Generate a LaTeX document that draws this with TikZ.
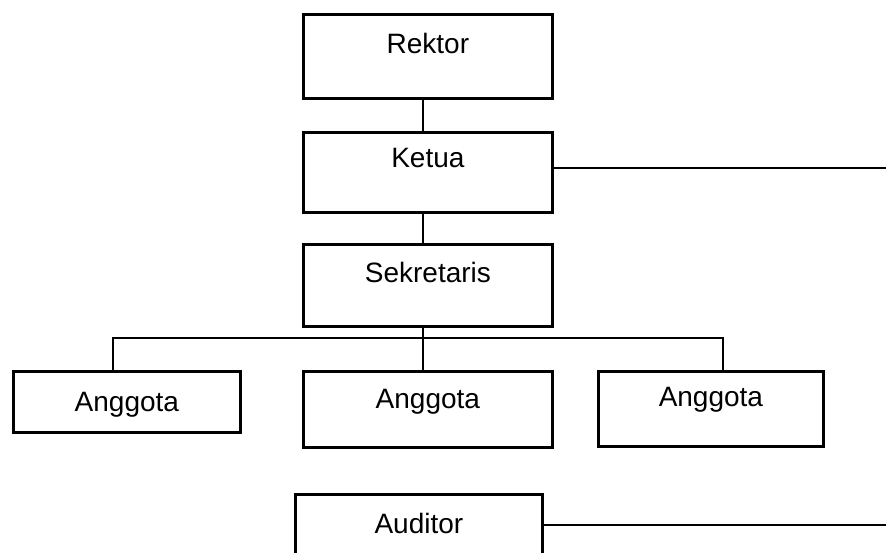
\documentclass[tikz,border=0pt]{standalone}
\usepackage{fontspec}
\setmainfont{Liberation Sans}
\usepackage{tikz}
\usetikzlibrary{positioning}
\tikzset{
  orgbox/.style={draw, line width=2.8pt, inner xsep=0pt, inner ysep=0pt,
    anchor=north west, font=\fontsize{28}{32}\selectfont},
  orgline/.style={line width=2.8pt}
}

\begin{document}
\begin{tikzpicture}[x=1pt, y=-1pt]
\useasboundingbox (0,0) rectangle (886,553);
\node[orgbox, minimum width=249pt, text height=39pt, text depth=45pt] (rektor) at (302,13) {Rektor};
\node[orgbox, minimum width=249pt, text height=35pt, text depth=45pt] (ketua) at (302,131) {Ketua};
\node[orgbox, minimum width=249pt, text height=38pt, text depth=44pt] (sekretaris) at (302,243) {Sekretaris};
\node[orgbox, minimum width=227pt, text height=40pt, text depth=21pt] (anggota1) at (12,370) {Anggota};
\node[orgbox, minimum width=249pt, text height=37pt, text depth=39pt] (anggota2) at (302,370) {Anggota};
\node[orgbox, minimum width=225pt, text height=35pt, text depth=40pt] (anggota3) at (597,370) {Anggota};
\node[orgbox, minimum width=247pt, text height=39pt, text depth=40pt] (auditor) at (294,493) {Auditor};
\coordinate (stem) at (423,0);
\coordinate (ketuaEnd) at (886,168);
\coordinate (auditorEnd) at (886,525);
\coordinate (busL) at (113,338);
\coordinate (busR) at (723,338);
\draw[orgline] (rektor.south -| stem) -- (ketua.north -| stem);
\draw[orgline] (ketua.south -| stem) -- (sekretaris.north -| stem);
\draw[orgline] (sekretaris.south -| stem) -- (anggota2.north -| stem);
\draw[orgline] (anggota1.north -| busL) |- (busR) -- (anggota3.north -| busR);
\draw[orgline] (ketua.east |- ketuaEnd) -- (ketuaEnd);
\draw[orgline] (auditor.east |- auditorEnd) -- (auditorEnd);
\end{tikzpicture}
\end{document}
